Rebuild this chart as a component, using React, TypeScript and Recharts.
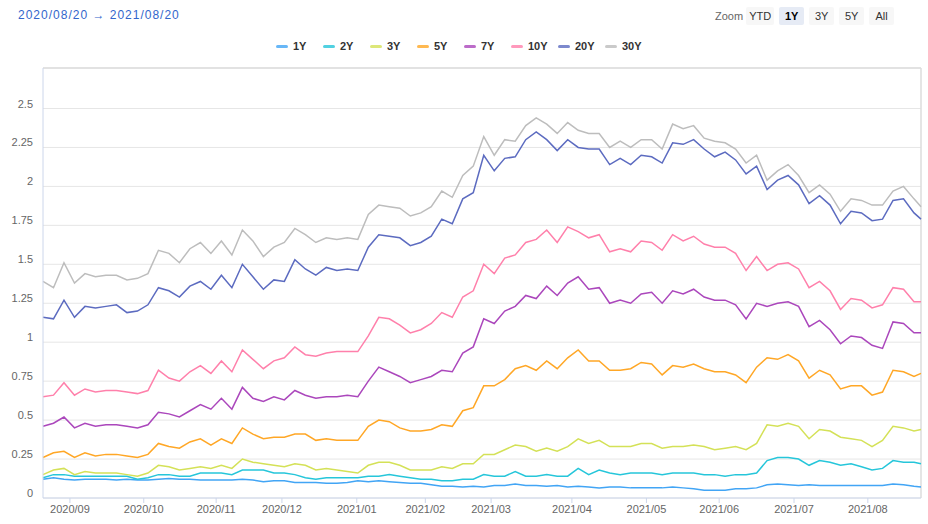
import { LineChart, Line, XAxis, YAxis, CartesianGrid, ReferenceLine } from 'recharts';

// trading-day index since 2020/08/20 (sampled every 3rd session)
const DAYS = [
  0, 3, 6, 9, 12, 15, 18, 21, 24, 27,
  30, 33, 36, 39, 42, 45, 48, 51, 54, 57,
  60, 63, 66, 69, 72, 75, 78, 81, 84, 87,
  90, 93, 96, 99, 102, 105, 108, 111, 114, 117,
  120, 123, 126, 129, 132, 135, 138, 141, 144, 147,
  150, 153, 156, 159, 162, 165, 168, 171, 174, 177,
  180, 183, 186, 189, 192, 195, 198, 201, 204, 207,
  210, 213, 216, 219, 222, 225, 228, 231, 234, 237,
  240, 243, 246, 249, 251,
];

const Y1 = [
  0.12, 0.13, 0.12, 0.115, 0.12, 0.12, 0.12, 0.115, 0.12, 0.115,
  0.115, 0.12, 0.125, 0.12, 0.12, 0.115, 0.115, 0.115, 0.115, 0.12,
  0.115, 0.105, 0.11, 0.11, 0.10, 0.10, 0.10, 0.095, 0.095, 0.10,
  0.11, 0.105, 0.11, 0.105, 0.10, 0.095, 0.095, 0.085, 0.075, 0.075,
  0.07, 0.075, 0.07, 0.08, 0.08, 0.09, 0.08, 0.08, 0.075, 0.08,
  0.07, 0.075, 0.07, 0.065, 0.07, 0.07, 0.065, 0.065, 0.065, 0.065,
  0.07, 0.065, 0.06, 0.05, 0.05, 0.05, 0.06, 0.06, 0.065, 0.085,
  0.09, 0.085, 0.08, 0.085, 0.08, 0.08, 0.08, 0.08, 0.08, 0.08,
  0.08, 0.09, 0.085, 0.075, 0.07,
];

const Y2 = [
  0.13, 0.15, 0.15, 0.14, 0.14, 0.14, 0.14, 0.14, 0.14, 0.12,
  0.13, 0.15, 0.15, 0.14, 0.14, 0.16, 0.16, 0.16, 0.15, 0.18,
  0.18, 0.18, 0.16, 0.16, 0.15, 0.13, 0.12, 0.13, 0.13, 0.13,
  0.13, 0.14, 0.14, 0.15, 0.14, 0.13, 0.12, 0.12, 0.11, 0.11,
  0.12, 0.12, 0.15, 0.14, 0.14, 0.17, 0.14, 0.14, 0.15, 0.14,
  0.14, 0.19, 0.15, 0.18, 0.16, 0.15, 0.16, 0.16, 0.16, 0.15,
  0.16, 0.16, 0.16, 0.15, 0.15, 0.14, 0.15, 0.15, 0.16, 0.24,
  0.26, 0.26, 0.25, 0.21, 0.24, 0.23, 0.21, 0.22, 0.20, 0.18,
  0.19, 0.24, 0.23, 0.23, 0.22,
];

const Y3 = [
  0.15, 0.18, 0.19, 0.15, 0.17, 0.16, 0.16, 0.16, 0.15, 0.14,
  0.16, 0.21, 0.20, 0.18, 0.19, 0.20, 0.19, 0.21, 0.19, 0.25,
  0.23, 0.22, 0.21, 0.20, 0.22, 0.21, 0.18, 0.19, 0.18, 0.17,
  0.16, 0.21, 0.23, 0.23, 0.21, 0.18, 0.18, 0.18, 0.20, 0.19,
  0.22, 0.22, 0.28, 0.28, 0.31, 0.34, 0.33, 0.30, 0.32, 0.30,
  0.33, 0.38, 0.35, 0.37, 0.33, 0.33, 0.33, 0.35, 0.35, 0.32,
  0.33, 0.33, 0.34, 0.33, 0.31, 0.32, 0.33, 0.31, 0.35, 0.47,
  0.46, 0.48, 0.46, 0.38, 0.44, 0.43, 0.39, 0.38, 0.37, 0.33,
  0.37, 0.46, 0.45, 0.43, 0.44,
];

const Y5 = [
  0.26, 0.29, 0.30, 0.26, 0.29, 0.27, 0.28, 0.28, 0.27, 0.26,
  0.28, 0.35, 0.33, 0.32, 0.36, 0.38, 0.34, 0.38, 0.35, 0.45,
  0.41, 0.38, 0.39, 0.39, 0.41, 0.41, 0.37, 0.38, 0.37, 0.37,
  0.37, 0.46, 0.50, 0.49, 0.45, 0.43, 0.43, 0.44, 0.47, 0.46,
  0.56, 0.58, 0.72, 0.72, 0.76, 0.83, 0.85, 0.82, 0.88, 0.83,
  0.90, 0.95, 0.88, 0.88, 0.82, 0.82, 0.83, 0.87, 0.86, 0.79,
  0.85, 0.84, 0.86, 0.83, 0.81, 0.81, 0.79, 0.74, 0.84, 0.90,
  0.89, 0.92, 0.88, 0.77, 0.82, 0.79, 0.70, 0.72, 0.72, 0.66,
  0.68, 0.82, 0.81, 0.78, 0.80,
];

const Y7 = [
  0.46, 0.48, 0.52, 0.45, 0.48, 0.46, 0.47, 0.47, 0.46, 0.45,
  0.47, 0.55, 0.54, 0.52, 0.56, 0.60, 0.57, 0.64, 0.57, 0.71,
  0.64, 0.62, 0.65, 0.63, 0.69, 0.66, 0.64, 0.65, 0.65, 0.66,
  0.65, 0.75, 0.84, 0.81, 0.78, 0.74, 0.76, 0.78, 0.82, 0.81,
  0.93, 0.97, 1.15, 1.12, 1.20, 1.23, 1.30, 1.28, 1.36, 1.30,
  1.38, 1.42, 1.34, 1.35, 1.25, 1.27, 1.25, 1.31, 1.32, 1.25,
  1.33, 1.31, 1.34, 1.29, 1.27, 1.27, 1.24, 1.15, 1.25, 1.23,
  1.25, 1.26, 1.23, 1.10, 1.14, 1.08, 0.99, 1.04, 1.03, 0.98,
  0.96, 1.13, 1.12, 1.06, 1.06,
];

const Y10 = [
  0.65, 0.66, 0.74, 0.66, 0.70, 0.68, 0.69, 0.69, 0.68, 0.67,
  0.69, 0.82, 0.77, 0.75, 0.81, 0.85, 0.80, 0.88, 0.81, 0.95,
  0.89, 0.83, 0.88, 0.90, 0.97, 0.92, 0.91, 0.93, 0.94, 0.94,
  0.94, 1.04, 1.16, 1.15, 1.11, 1.06, 1.08, 1.12, 1.19, 1.16,
  1.29, 1.33, 1.50, 1.44, 1.54, 1.56, 1.64, 1.66, 1.72, 1.64,
  1.74, 1.71, 1.67, 1.69, 1.58, 1.60, 1.58, 1.65, 1.64, 1.59,
  1.69, 1.65, 1.68, 1.63, 1.61, 1.61, 1.57, 1.46, 1.55, 1.46,
  1.50, 1.51, 1.47, 1.35, 1.39, 1.33, 1.21, 1.28, 1.27, 1.22,
  1.24, 1.35, 1.34, 1.26, 1.26,
];

const Y20 = [
  1.16, 1.15, 1.27, 1.16, 1.23, 1.22, 1.23, 1.24, 1.19, 1.20,
  1.24, 1.35, 1.33, 1.29, 1.36, 1.39, 1.34, 1.43, 1.35, 1.50,
  1.42, 1.34, 1.40, 1.39, 1.53, 1.47, 1.43, 1.48, 1.46, 1.47,
  1.46, 1.61, 1.69, 1.68, 1.67, 1.62, 1.64, 1.68, 1.79, 1.76,
  1.92, 1.96, 2.20, 2.10, 2.18, 2.19, 2.30, 2.35, 2.30, 2.23,
  2.30, 2.25, 2.24, 2.24, 2.14, 2.18, 2.14, 2.20, 2.19, 2.15,
  2.28, 2.27, 2.30, 2.24, 2.19, 2.22, 2.17, 2.08, 2.13, 1.98,
  2.04, 2.07, 2.01, 1.89, 1.94, 1.88, 1.76, 1.84, 1.83, 1.78,
  1.79, 1.91, 1.92, 1.83, 1.79,
];

const Y30 = [
  1.39, 1.35, 1.51, 1.38, 1.44, 1.42, 1.43, 1.43, 1.40, 1.41,
  1.44, 1.59, 1.57, 1.51, 1.60, 1.64, 1.57, 1.65, 1.56, 1.72,
  1.65, 1.55, 1.61, 1.64, 1.73, 1.69, 1.64, 1.67, 1.66, 1.67,
  1.66, 1.82, 1.88, 1.87, 1.86, 1.81, 1.83, 1.87, 1.97, 1.93,
  2.07, 2.13, 2.32, 2.20, 2.30, 2.29, 2.39, 2.44, 2.40, 2.34,
  2.41, 2.36, 2.34, 2.34, 2.25, 2.29, 2.25, 2.30, 2.30, 2.24,
  2.40, 2.37, 2.39, 2.31, 2.29, 2.28, 2.24, 2.15, 2.20, 2.04,
  2.10, 2.14, 2.07, 1.96, 2.01, 1.95, 1.84, 1.92, 1.91, 1.88,
  1.88, 1.97, 2.00, 1.92, 1.87,
];

const SERIES = [
  { name: '1Y', values: Y1, color: '#42a5f5' },
  { name: '2Y', values: Y2, color: '#26c6da' },
  { name: '3Y', values: Y3, color: '#d4e157' },
  { name: '5Y', values: Y5, color: '#ffa726' },
  { name: '7Y', values: Y7, color: '#ab47bc' },
  { name: '10Y', values: Y10, color: '#ff80ab' },
  { name: '20Y', values: Y20, color: '#5c6bc0' },
  { name: '30Y', values: Y30, color: '#bdbdbd' },
];

// month boundaries on the trading-day axis
const MONTH_TICKS = [7.7, 28.8, 49.5, 68.3, 89.7, 109.3, 128.1, 151.2, 172.5, 193.3, 214.7, 235.8];
const MONTH_LABELS = [
  '2020/09', '2020/10', '2020/11', '2020/12', '2021/01', '2021/02',
  '2021/03', '2021/04', '2021/05', '2021/06', '2021/07', '2021/08',
];
const Y_TICKS = [0, 0.25, 0.5, 0.75, 1, 1.25, 1.5, 1.75, 2, 2.25, 2.5];
const ZOOM_BUTTONS = ['YTD', '1Y', '3Y', '5Y', 'All'];

const FONT = "'Liberation Sans', Arial, sans-serif";

const data = DAYS.map((day, i) => {
  const row: Record<string, number> = { day };
  SERIES.forEach((s) => {
    row[s.name] = s.values[i];
  });
  return row;
});

const XTick = ({ x, y, payload }: any) => {
  const idx = MONTH_TICKS.indexOf(payload.value);
  return (
    <text x={x} y={y} dy={8} textAnchor="middle" fill="#666" fontSize={11} fontFamily={FONT}>
      {MONTH_LABELS[idx]}
    </text>
  );
};

const YTick = ({ x, y, payload }: any) => (
  <text x={x} y={y} dy={-1} textAnchor="end" fill="#666" fontSize={11} fontFamily={FONT}>
    {payload.value}
  </text>
);

const App = () => {
  return (
    <div
      style={{
        position: 'absolute',
        left: 0,
        top: 0,
        width: 928,
        height: 524,
        background: '#fff',
        fontFamily: FONT,
      }}
    >
      <div style={{ position: 'absolute', left: 18, top: 8, fontSize: 12, letterSpacing: 1, color: '#3366cc' }}>
        2020/08/20 → 2021/08/20
      </div>

      <div style={{ position: 'absolute', left: 715, top: 7, display: 'flex', alignItems: 'center', fontSize: 11 }}>
        <span style={{ color: '#666', marginRight: 3 }}>Zoom</span>
        {ZOOM_BUTTONS.map((b) => (
          <span
            key={b}
            style={{
              width: b === 'YTD' ? 28 : 25,
              textAlign: 'center',
              background: b === '1Y' ? '#e6ebf5' : '#f7f7f7',
              color: b === '1Y' ? '#000' : '#333',
              fontWeight: b === '1Y' ? 'bold' : 'normal',
              padding: '3px 0',
              marginRight: 5,
              borderRadius: 2,
            }}
          >
            {b}
          </span>
        ))}
      </div>

      <div style={{ position: 'absolute', left: 276, top: 40, display: 'flex' }}>
        {SERIES.map((s) => (
          <div key={s.name} style={{ width: 47, display: 'flex', alignItems: 'center' }}>
            <span
              style={{
                display: 'inline-block',
                width: 12,
                height: 3,
                borderRadius: 2,
                background: s.color,
                opacity: 0.8,
                marginRight: 5,
              }}
            />
            <span style={{ fontSize: 11, fontWeight: 'bold', color: '#333' }}>{s.name}</span>
          </div>
        ))}
      </div>

      <LineChart
        width={928}
        height={524}
        data={data}
        margin={{ top: 68, right: 7, bottom: 0, left: 0 }}
        style={{ position: 'absolute', left: 0, top: 0 }}
      >
        <CartesianGrid vertical={false} stroke="#e6e6e6" />
        <XAxis
          dataKey="day"
          type="number"
          domain={[0, 251]}
          ticks={MONTH_TICKS}
          interval={0}
          height={26}
          tickSize={5}
          tickMargin={2}
          tick={<XTick />}
          tickLine={{ stroke: '#ccd6eb' }}
          axisLine={{ stroke: '#ccd6eb' }}
        />
        <YAxis
          type="number"
          domain={[0, 2.76]}
          ticks={Y_TICKS}
          width={43}
          tickSize={0}
          tickMargin={10}
          tickLine={false}
          tick={<YTick />}
          axisLine={{ stroke: '#ccd6eb' }}
        />
        <ReferenceLine y={2.76} stroke="#dcdcdc" strokeWidth={1.5} />
        <ReferenceLine x={251} stroke="#dcdcdc" strokeWidth={1.5} />
        {SERIES.map((s) => (
          <Line
            key={s.name}
            type="linear"
            dataKey={s.name}
            stroke={s.color}
            strokeWidth={1.5}
            dot={false}
            isAnimationActive={false}
          />
        ))}
      </LineChart>
    </div>
  );
};

export default App;
